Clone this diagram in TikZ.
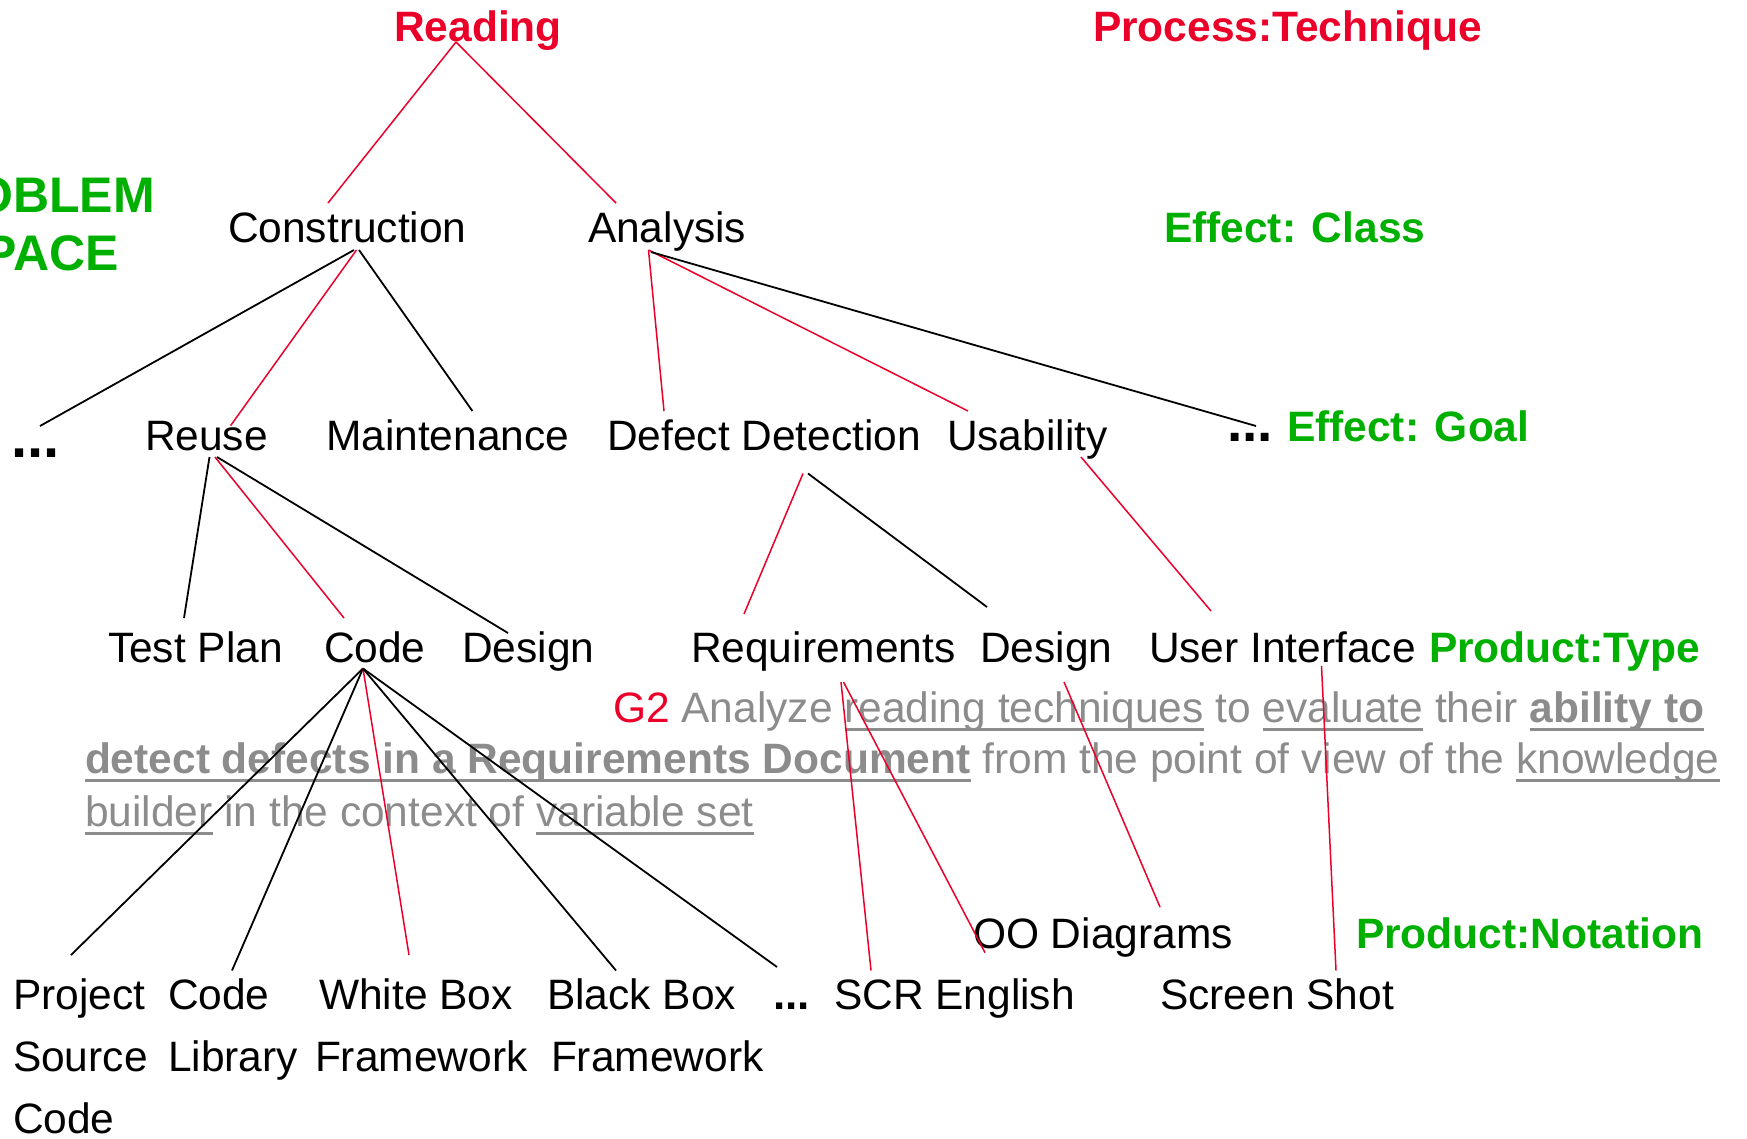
\documentclass[tikz,border=0pt]{standalone}
\usepackage{fontspec}
\setmainfont{Liberation Sans}
\definecolor{lred}{RGB}{235,0,41}
\definecolor{lgreen}{RGB}{0,176,0}
\definecolor{lgray}{RGB}{140,140,140}
\newcommand\fsz[1]{\fontsize{#1}{#1}\selectfont}
% underline drawn as a rule just below the baseline
\newcommand\ulx[1]{\setbox0=\hbox{#1}\rlap{\rule[-9pt]{\wd0}{3.5pt}}\box0\relax}

\begin{document}
\begin{tikzpicture}[x=1pt,y=-1pt,
  lbl/.style={inner sep=0pt, outer sep=0pt, anchor=base west, font=\fsz{42.5}},
  hd/.style={lbl, font=\fsz{42.5}\bfseries},
  redhd/.style={hd, text=lred},
  grnhd/.style={hd, text=lgreen},
  para/.style={lbl, text=lgray},
  ellip/.style={lbl, font=\fsz{#1}\bfseries},
  rl/.style={draw=lred, line width=1.5pt},
  bl/.style={draw=black, line width=1.8pt}]
\useasboundingbox (0,0) rectangle (1747,1138);
\clip (0,0) rectangle (1747,1138);

% headings
\node[redhd, anchor=base] (reading) at (478,41) {Reading};
\node[redhd] (proc) at (1093,41) {Process:Technique};
\node[grnhd, font=\fsz{50}\bfseries, anchor=base east] (probl) at (155,212) {PROBLEM};
\node[grnhd, font=\fsz{50}\bfseries, anchor=base east] (space) at (119,270) {SPACE};
\node[grnhd] (effclass) at (1164,242) {Effect: Class};
\node[grnhd] (effgoal) at (1287,441) {Effect: Goal};
\node[grnhd] (prodtype) at (1429,662) {Product:Type};
\node[grnhd] (prodnot) at (1356,948) {Product:Notation};

% level 1
\node[lbl] (cons) at (228,242) {Construction};
\node[lbl] (anal) at (588,242) {Analysis};

% level 2
\node[ellip=58] (dotsL) at (11,457) {...};
\node[lbl] (reuse) at (145,450) {Reuse};
\node[lbl] (maint) at (326,450) {Maintenance};
\node[lbl] (defect) at (607,450) {Defect Detection};
\node[lbl] (usab) at (947,450) {Usability};
\node[ellip=55] (dotsR) at (1227,441) {...};

% level 3
\node[lbl] (testplan) at (108,662) {Test Plan};
\node[lbl] (code) at (324,662) {Code};
\node[lbl] (design1) at (462,662) {Design};
\node[lbl] (req) at (691,662) {Requirements};
\node[lbl] (design2) at (980,662) {Design};
\node[lbl] (ui) at (1149,662) {User Interface};

% goal statement
\node[para] (g2a) at (613,722) {\textcolor{lred}{G2} Analyze \ulx{reading techniques} to \ulx{evaluate} their \ulx{\bfseries ability to}};
\node[para] (g2b) at (85,773) {\ulx{\bfseries detect defects in a Requirements Document} from the point of view of the \ulx{knowledge}};
\node[para] (g2c) at (85,826) {\ulx{builder} in the context of \ulx{variable set}};

% level 4
\node[lbl] (oo) at (973,948) {OO Diagrams};
\node[lbl] (proj1) at (13,1009) {Project};
\node[lbl] (proj2) at (13,1071) {Source};
\node[lbl] (proj3) at (13,1133) {Code};
\node[lbl] (lib1) at (168,1009) {Code};
\node[lbl] (lib2) at (168,1071) {Library};
\node[lbl] (white1) at (319,1009) {White Box};
\node[lbl] (white2) at (315,1071) {Framework};
\node[lbl] (black1) at (547,1009) {Black Box};
\node[lbl] (black2) at (551,1071) {Framework};
\node[ellip=44] (dotsB) at (773,1009) {...};
\node[lbl] (scr) at (834,1009) {SCR English};
\node[lbl] (screen) at (1160,1009) {Screen Shot};

% connectors
\draw[rl] ([shift={(-22,1)}]reading.base) -- ([shift={(100,-39)}]cons.base west);
\draw[rl] ([shift={(-22,1)}]reading.base) -- ([shift={(28,-39)}]anal.base west);

\draw[bl] ([shift={(126,8)}]cons.base west) -- ([shift={(29,-31)}]dotsL.base west);
\draw[rl] ([shift={(128.5,8)}]cons.base west) -- ([shift={(85.6,-24.4)}]reuse.base west);
\draw[bl] ([shift={(131,8)}]cons.base west) -- ([shift={(146.4,-39)}]maint.base west);

\draw[rl] ([shift={(60.5,8)}]anal.base west) -- ([shift={(57,-39)}]defect.base west);
\draw[rl] ([shift={(60.5,8)}]anal.base west) -- ([shift={(21,-39)}]usab.base west);
\draw[bl] ([shift={(63,10)}]anal.base west) -- ([shift={(29,-15)}]dotsR.base west);

\draw[bl] ([shift={(64.5,7)}]reuse.base west) -- ([shift={(76,-44)}]testplan.base west);
\draw[rl] ([shift={(70,7)}]reuse.base west) -- ([shift={(20,-44)}]code.base west);
\draw[bl] ([shift={(72,7)}]reuse.base west) -- ([shift={(46,-29)}]design1.base west);

\draw[rl] ([shift={(196,23.5)}]defect.base west) -- ([shift={(53,-48)}]req.base west);
\draw[bl] ([shift={(201,23.5)}]defect.base west) -- ([shift={(7,-55)}]design2.base west);
\draw[rl] ([shift={(134,7)}]usab.base west) -- ([shift={(62,-51)}]ui.base west);

\draw[bl] ([shift={(39,6.5)}]code.base west) -- ([shift={(58,-54)}]proj1.base west);
\draw[bl] ([shift={(39,6.5)}]code.base west) -- ([shift={(64,-38.5)}]lib1.base west);
\draw[rl] ([shift={(39,6.5)}]code.base west) -- ([shift={(90,-54)}]white1.base west);
\draw[bl] ([shift={(39,6.5)}]code.base west) -- ([shift={(69,-38.5)}]black1.base west);
\draw[bl] ([shift={(39,6.5)}]code.base west) -- ([shift={(4,-42)}]dotsB.base west);

\draw[rl] ([shift={(150,20)}]req.base west) -- ([shift={(37,-38.5)}]scr.base west);
\draw[rl] ([shift={(152.5,20)}]req.base west) -- ([shift={(151,-56.4)}]scr.base west);
\draw[rl] ([shift={(84,20)}]design2.base west) -- ([shift={(187,-41)}]oo.base west);
\draw[rl] ([shift={(172.5,4)}]ui.base west) -- ([shift={(176,-38.5)}]screen.base west);
\end{tikzpicture}
\end{document}
